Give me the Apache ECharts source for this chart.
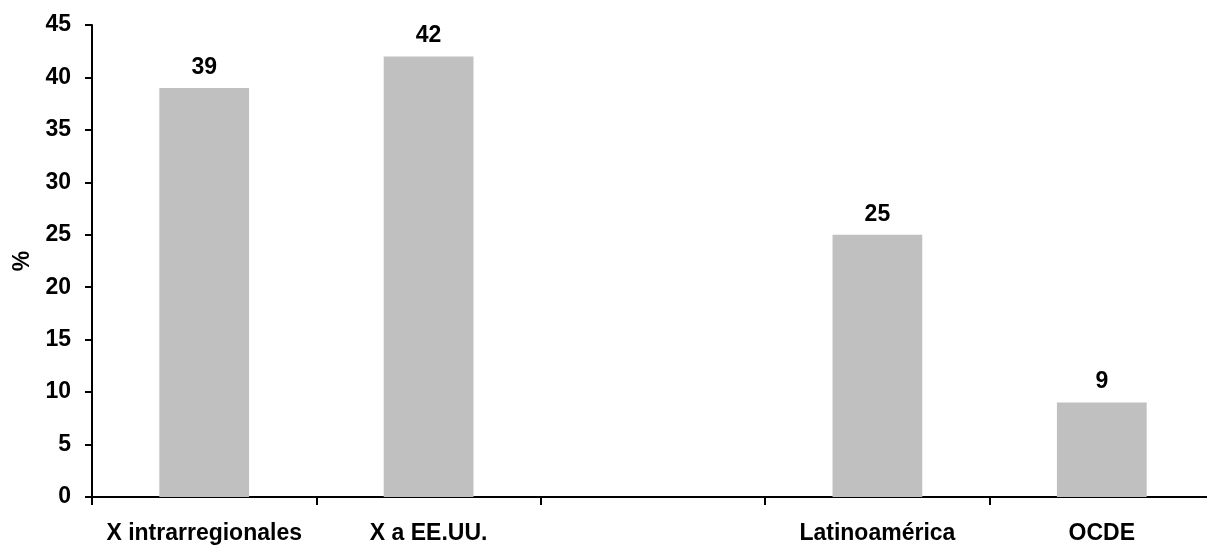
<!DOCTYPE html>
<html><head><meta charset="utf-8">
<script src="https://cdn.jsdelivr.net/npm/echarts@6/dist/echarts.min.js"></script>
<style>html,body{margin:0;padding:0;background:#fff;overflow:hidden;width:1207px;height:545px}#c{width:1214px;height:545px}</style>
</head><body><div id="c"></div>
<script>
const categories = ["X intrarregionales", "X a EE.UU.", "", "Latinoamérica", "OCDE"];
const values = [39, 42, null, 25, 9];
const yTicks = [0, 5, 10, 15, 20, 25, 30, 35, 40, 45];
const yName = "%";

const chart = echarts.init(document.getElementById('c'), null, {renderer: 'canvas'});
const font = 'Liberation Sans, Arial, sans-serif';
chart.setOption({
  animation: false,
  backgroundColor: '#fff',
  grid: {left: 92, right: 0, top: 25, bottom: 48, containLabel: false},
  xAxis: {
    type: 'category', data: categories,
    axisLine: {lineStyle: {color: '#000', width: 2}},
    axisTick: {show: true, length: 8, lineStyle: {color: '#000', width: 2}},
    axisLabel: {color: '#000', fontSize: 23, fontWeight: 'bold', fontFamily: font, margin: 25, interval: 0}
  },
  yAxis: {
    type: 'value', min: yTicks[0], max: yTicks[yTicks.length-1], interval: 5,
    name: yName, nameLocation: 'middle', nameGap: 58,
    nameTextStyle: {color: '#000', fontSize: 23, fontWeight: 'bold', fontFamily: font},
    axisLine: {show: true, lineStyle: {color: '#000', width: 2}},
    axisTick: {show: true, length: 7, lineStyle: {color: '#000', width: 2}},
    splitLine: {show: false},
    axisLabel: {color: '#000', fontSize: 23, fontWeight: 'bold', fontFamily: font, margin: 21}
  },
  series: [{
    type: 'bar', data: values, barWidth: '40%',
    itemStyle: {color: '#c0c0c0'},
    label: {show: true, position: 'top', distance: 9, color: '#000', fontSize: 23, fontWeight: 'bold', fontFamily: font}
  }]
});
</script></body></html>
